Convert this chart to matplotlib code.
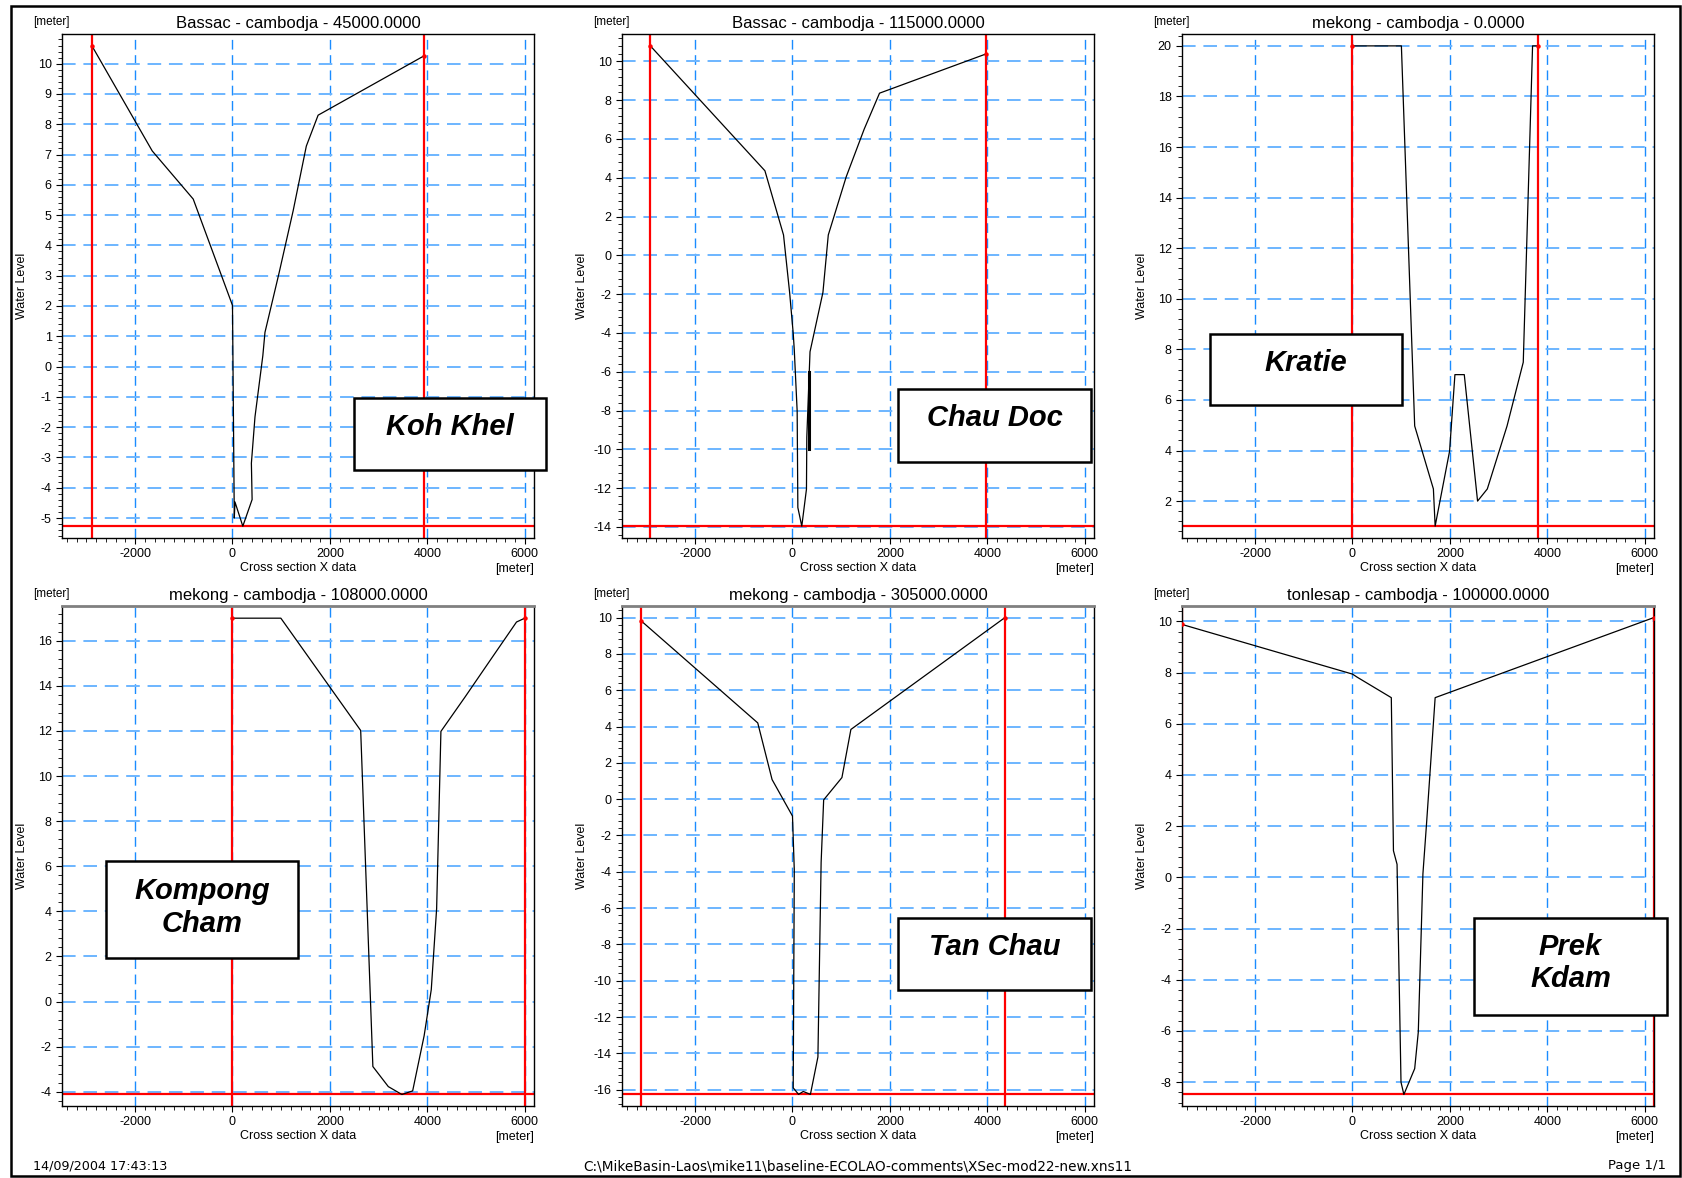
import numpy as np
import matplotlib
matplotlib.use("Agg")
import matplotlib.pyplot as plt
from matplotlib.patches import Rectangle
from matplotlib.ticker import MultipleLocator, AutoMinorLocator

# cross section data (x in m, level in m)
titles = ["Bassac - cambodja - 45000.0000", "Bassac - cambodja - 115000.0000",
          "mekong - cambodja - 0.0000", "mekong - cambodja - 108000.0000",
          "mekong - cambodja - 305000.0000", "tonlesap - cambodja - 100000.0000"]
stations = ["Koh Khel", "Chau Doc", "Kratie", "Kompong\nCham", "Tan Chau", "Prek\nKdam"]

kohkhel_x = [-2886, -1648, -806, 0, 37, 51, 212, 403, 388, 462, 623, 667, 952, 1245, 1516, 1758, 3934]
kohkhel_y = [10.59, 7.12, 5.53, 2.02, -5.0, -4.47, -5.27, -4.39, -3.19, -1.66, 0.36, 1.13, 3.06, 5.14, 7.28, 8.30, 10.26]

chaudoc_x = [-2919, -566, -184, -59, 15, 37, 96, 110, 191, 287, 294, 360, 625, 735, 1103, 1471, 1787, 3971]
chaudoc_y = [10.80, 4.36, 1.05, -1.91, -4.02, -4.88, -8.03, -13.0, -13.96, -12.05, -9.37, -4.97, -1.91, 1.05, 4.05, 6.5, 8.36, 10.38]
chaudoc_bar_x = [331, 331]
chaudoc_bar_y = [-6.0, -10.0]

kratie_x = [0, 1004, 1277, 1661, 1697, 1993, 2103, 2295, 2568, 2768, 3173, 3506, 3697, 3801]
kratie_y = [20, 20, 4.97, 2.48, 1.01, 3.97, 7.0, 7.0, 2.0, 2.48, 4.97, 7.49, 20, 20]

kompong_x = [0, 993, 2632, 2882, 3199, 3478, 3699, 3934, 4081, 4191, 4279, 4779, 5331, 5831, 6000]
kompong_y = [17.0, 17.0, 12.02, -2.88, -3.77, -4.12, -3.96, -1.52, 0.53, 4.12, 11.98, 13.52, 15.26, 16.83, 17.0]

tanchau_x = [-3110, -713, -419, 0, 37, 15, 125, 221, 368, 522, 588, 640, 1015, 1199, 4360]
tanchau_y = [9.83, 4.2, 1.08, -0.93, -3.9, -15.9, -16.26, -16.1, -16.26, -14.2, -3.48, -0.04, 1.19, 3.84, 10.0]

prekkdam_x = [-3500, 0, 96, 797, 841, 915, 996, 1055, 1277, 1351, 1446, 1520, 1697, 6190]
prekkdam_y = [9.88, 7.94, 7.82, 7.02, 1.04, 0.51, -8.0, -8.48, -7.47, -6.04, 0.14, 2.09, 7.02, 10.15]

xs = [kohkhel_x, chaudoc_x, kratie_x, kompong_x, tanchau_x, prekkdam_x]
ys = [kohkhel_y, chaudoc_y, kratie_y, kompong_y, tanchau_y, prekkdam_y]

# axis setup
ylims = [(-5.66, 10.98), (-14.57, 11.41), (0.54, 20.47), (-4.63, 17.54), (-16.9, 10.64), (-8.93, 10.6)]
ysteps = [1, 2, 2, 2, 2, 2]
xlim = (-3500, 6190)

W, H = 1682, 1178
plt.rcParams['font.family'] = ['Liberation Sans', 'DejaVu Sans']
plt.rcParams['axes.unicode_minus'] = False
fig = plt.figure(figsize=(W / 100, H / 100), dpi=100)

# axes boxes in pixels: left, top, width, height
col_left = [62, 622, 1182]
row_top = [34, 606]
row_h = [504, 500]
ax_w = 472

# station label boxes in pixels: left, top, width, height, text line centres
box_pos = [(354, 398, 192, 72, [427]),
           (898, 389, 193, 73, [418]),
           (1210, 334, 192, 71, [363]),
           (106, 861, 192, 97, [891, 924]),
           (898, 918, 193, 72, [947]),
           (1474, 918, 193, 97, [947, 979])]

for i in range(6):
    r, c = divmod(i, 3)
    left = col_left[c] / W
    bottom = 1 - (row_top[r] + row_h[r]) / H
    ax = fig.add_axes([left, bottom, ax_w / W, row_h[r] / H])

    x = np.array(xs[i])
    y = np.array(ys[i])

    ax.set_xlim(*xlim)
    ax.set_ylim(*ylims[i])

    # grid
    ax.xaxis.set_major_locator(MultipleLocator(2000))
    ax.xaxis.set_minor_locator(MultipleLocator(200))
    ax.yaxis.set_major_locator(MultipleLocator(ysteps[i]))
    ax.yaxis.set_minor_locator(AutoMinorLocator(5))
    ax.grid(axis='x', which='major', color='#1a8cff', lw=1.0, ls=(0, (7, 4)), zorder=1)
    ax.grid(axis='y', which='major', color='#6db6ff', lw=1.4, ls=(0, (7, 4)), zorder=1)

    # bank markers and bottom level
    ax.axvline(x.min(), color='red', lw=1.6, zorder=2)
    ax.axvline(x.max(), color='red', lw=1.6, zorder=2)
    ax.axhline(y.min(), color='red', lw=1.6, zorder=2)

    ax.plot(x, y, color='black', lw=0.9, zorder=3)
    ax.plot([x[0], x[-1]], [y[0], y[-1]], 'o', color='red', ms=2.2, zorder=4)
    if i == 1:
        ax.plot(chaudoc_bar_x, chaudoc_bar_y, color='black', lw=2.2, zorder=3)

    ax.tick_params(which='both', direction='out', labelsize=9, top=False, right=False)
    ax.tick_params(which='major', length=4)
    ax.tick_params(which='minor', length=3)
    for s in ax.spines.values():
        s.set_linewidth(1.0)
    if r == 1:
        ax.spines['top'].set_color('#808080')
        ax.spines['top'].set_linewidth(2.0)

    ax.set_title(titles[i], fontsize=12, pad=4)
    ax.set_ylabel('Water Level', fontsize=9)
    ax.yaxis.set_label_coords(-0.072, 0.5)
    ax.set_xlabel('Cross section X data', fontsize=9, labelpad=1)
    ax.text(1.0, -0.062, '[meter]', transform=ax.transAxes, ha='right', va='center', fontsize=9)
    ax.text(-0.061, 1.012, '[meter]', transform=ax.transAxes, ha='left', va='bottom', fontsize=8.5)

# station name boxes
for (bx, by, bw, bh, lines), name in zip(box_pos, stations):
    fig.add_artist(Rectangle((bx / W, 1 - (by + bh) / H), bw / W, bh / H,
                             transform=fig.transFigure, facecolor='white',
                             edgecolor='black', lw=1.8, zorder=10))
    for ly, txt in zip(lines, name.split('\n')):
        fig.text((bx + bw / 2) / W, 1 - ly / H, txt, ha='center', va='center',
                 fontsize=21, fontweight='bold', fontstyle='italic', zorder=11)

# page frame and footer
fig.add_artist(Rectangle((10.5 / W, 2 / H), 1669 / W, 1170 / H, transform=fig.transFigure,
                         fill=False, edgecolor='black', lw=1.8))
fig.text(33 / W, 1 - 1166 / H, '14/09/2004 17:43:13', ha='left', va='center',
         fontsize=9.2, family='DejaVu Sans')
fig.text(858 / W, 1 - 1166 / H,
         r'C:\MikeBasin-Laos\mike11\baseline-ECOLAO-comments\XSec-mod22-new.xns11',
         ha='center', va='center', fontsize=9.8, family='DejaVu Sans')
fig.text(1666 / W, 1 - 1166 / H, 'Page 1/1', ha='right', va='center',
         fontsize=9.5, family='DejaVu Sans')

fig.savefig('out.png', dpi=100)
